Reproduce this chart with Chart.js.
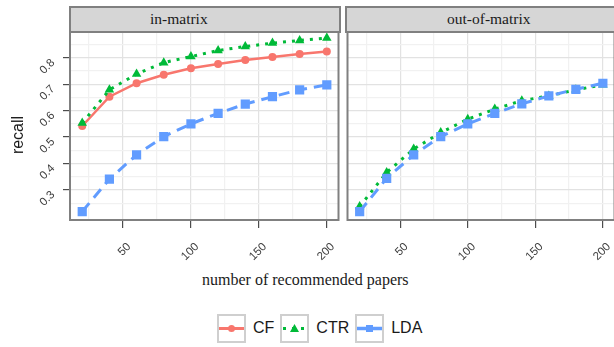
<!DOCTYPE html>
<html>
<head>
<meta charset="utf-8">
<script src="https://cdn.jsdelivr.net/npm/chart.js@4.4.0/dist/chart.umd.min.js"></script>
<style>
    html, body { margin: 0; padding: 0; background: #fff; }
    body {
        width: 614px; height: 347px; overflow: hidden; position: relative;
        font-family: 'Liberation Sans', Arial, sans-serif;
    }
    .panel { position: absolute; top: 0; height: 270px; }
    #leftPanel { left: 0; width: 345px; }
    #rightPanel { left: 341px; width: 280px; }
    .strip {
        position: absolute; top: 6px; height: 27px; box-sizing: border-box;
        background: #d6d6d6; border: 2px solid #808080;
        font-family: 'Liberation Serif', 'Times New Roman', serif;
        font-size: 15.5px; color: #1a1a1a; line-height: 22px; white-space: nowrap;
    }
    #leftStrip { left: 69px; width: 272px; padding-left: 79px; }
    #rightStrip { left: 345px; width: 272px; padding-left: 100px; }
    #yTitle {
        position: absolute; left: -12px; top: 125px; width: 60px; height: 20px;
        text-align: center; font-size: 16px; line-height: 20px; color: #1a1a1a;
        transform: rotate(-90deg);
    }
    #xTitle {
        position: absolute; left: 202px; top: 271px; white-space: nowrap;
        font-family: 'Liberation Serif', 'Times New Roman', serif;
        font-size: 16px; line-height: 18px; color: #1a1a1a;
    }
    #legend {
        position: absolute; left: 217px; top: 313px; height: 30px;
        display: flex; align-items: center; font-size: 16px; color: #1a1a1a;
    }
    .key { width: 29px; height: 29px; box-sizing: border-box; border: 2px solid #cfcfcf; }
    .key svg { display: block; }
    .lbl { margin: 0 6px 0 7px; }
</style>
</head>
<body>
<div class="panel" id="leftPanel"><canvas id="leftChart"></canvas></div>
<div class="panel" id="rightPanel"><canvas id="rightChart"></canvas></div>
<div class="strip" id="leftStrip">in-matrix</div>
<div class="strip" id="rightStrip">out-of-matrix</div>
<div id="yTitle">recall</div>
<div id="xTitle">number of recommended papers</div>
<div id="legend">
    <div class="key"><svg width="25" height="25"><line x1="0" y1="12.5" x2="25" y2="12.5" stroke="#F8766D" stroke-width="3"/><circle cx="12.5" cy="12.5" r="3.5" fill="#F8766D"/></svg></div>
    <span class="lbl">CF</span>
    <div class="key"><svg width="25" height="25"><line x1="1" y1="12.5" x2="25" y2="12.5" stroke="#00BA38" stroke-width="3" stroke-dasharray="3 6"/><polygon points="12.5,8 17,16 8,16" fill="#00BA38"/></svg></div>
    <span class="lbl">CTR</span>
    <div class="key"><svg width="25" height="25"><line x1="0" y1="12.5" x2="25" y2="12.5" stroke="#619CFF" stroke-width="3.5"/><rect x="9" y="9" width="7" height="7" fill="#619CFF"/></svg></div>
    <span class="lbl">LDA</span>
</div>

<script>
// values
const xValues = [20, 40, 60, 80, 100, 120, 140, 160, 180, 200];

const inMatrixCF  = [0.542, 0.653, 0.704, 0.736, 0.761, 0.777, 0.792, 0.803, 0.815, 0.824];
const inMatrixCTR = [0.553, 0.679, 0.739, 0.782, 0.805, 0.828, 0.843, 0.856, 0.866, 0.875];
const inMatrixLDA = [0.218, 0.341, 0.433, 0.502, 0.550, 0.590, 0.625, 0.653, 0.679, 0.698];

const outMatrixCTR = [0.237, 0.366, 0.455, 0.517, 0.568, 0.606, 0.638, 0.656, 0.679, 0.698];
const outMatrixLDA = [0.218, 0.344, 0.433, 0.502, 0.550, 0.590, 0.626, 0.656, 0.681, 0.704];

const xGridTicks  = [25, 50, 75, 100, 125, 150, 175, 200];
const xTickLabels = [50, 100, 150, 200];
const yGridTicks  = [0.25, 0.3, 0.35, 0.4, 0.45, 0.5, 0.55, 0.6, 0.65, 0.7, 0.75, 0.8, 0.85];
const yTickLabels = [0.3, 0.4, 0.5, 0.6, 0.7, 0.8];
const xRange = [11, 208.6];
const yRange = [0.186, 0.898];

const COLORS = { CF: '#F8766D', CTR: '#00BA38', LDA: '#619CFF' };

function isIn(list, v) {
    return list.some(t => Math.abs(t - v) < 1e-6);
}

function makeSeries(name, values) {
    const base = {
        label: name,
        data: xValues.map((x, i) => ({ x: x, y: values[i] })),
        borderColor: COLORS[name],
        backgroundColor: COLORS[name],
        pointBorderWidth: 0,
        tension: 0,
        fill: false
    };
    if (name === 'CF') {
        return Object.assign(base, { borderWidth: 2.5, pointStyle: 'circle', pointRadius: 4, order: 2 });
    }
    if (name === 'CTR') {
        return Object.assign(base, { borderWidth: 3, borderDash: [3, 6], pointStyle: 'triangle', pointRadius: 5.5, order: 1 });
    }
    return Object.assign(base, { borderWidth: 3, borderDash: [11, 7], pointStyle: 'rect', pointRadius: 6.5, order: 0 });
}

// grey frame round each facet panel
const panelFrame = {
    id: 'panelFrame',
    afterDraw(chart) {
        const { left, top, right, bottom } = chart.chartArea;
        const ctx = chart.ctx;
        ctx.save();
        ctx.strokeStyle = '#808080';
        ctx.lineWidth = 2;
        ctx.strokeRect(left, top, right - left, bottom - top);
        ctx.restore();
    }
};

function gridColor(list) {
    return ctx => (ctx.tick && isIn(list, ctx.tick.value)) ? '#e2e2e2' : '#f1f1f1';
}

function makeOptions(showY) {
    return {
        responsive: true,
        maintainAspectRatio: false,
        animation: false,
        events: [],
        layout: { padding: { top: 32, right: 0, left: 0, bottom: 0 } },
        plugins: { legend: { display: false }, tooltip: { enabled: false } },
        scales: {
            x: {
                type: 'linear',
                min: xRange[0],
                max: xRange[1],
                afterBuildTicks: s => { s.ticks = xGridTicks.map(v => ({ value: v })); },
                afterFit: s => {
                    s.height = 50;
                    s.paddingLeft = 0;
                    s.paddingRight = 0;
                },
                border: { display: false },
                grid: {
                    color: gridColor(xTickLabels),
                    lineWidth: 1.2,
                    tickColor: ctx => (ctx.tick && isIn(xTickLabels, ctx.tick.value)) ? '#4d4d4d' : 'rgba(0,0,0,0)',
                    tickLength: 8
                },
                ticks: {
                    autoSkip: false,
                    minRotation: 45,
                    maxRotation: 45,
                    labelOffset: 6,
                    padding: 12,
                    color: '#404040',
                    font: { family: "'Liberation Sans', Arial, sans-serif", size: 11.5 },
                    callback: v => isIn(xTickLabels, v) ? String(v) : ''
                }
            },
            y: {
                type: 'linear',
                min: yRange[0],
                max: yRange[1],
                afterBuildTicks: s => { s.ticks = yGridTicks.map(v => ({ value: v })); },
                afterFit: s => { s.width = showY ? 70 : 0; },
                border: { display: false },
                grid: {
                    color: gridColor(yTickLabels),
                    lineWidth: 1.2,
                    drawTicks: showY,
                    tickColor: ctx => (ctx.tick && isIn(yTickLabels, ctx.tick.value)) ? '#4d4d4d' : 'rgba(0,0,0,0)',
                    tickLength: 7
                },
                ticks: {
                    display: showY,
                    autoSkip: false,
                    minRotation: 45,
                    maxRotation: 45,
                    labelOffset: 3,
                    padding: 10,
                    color: '#404040',
                    font: { family: "'Liberation Sans', Arial, sans-serif", size: 11.5 },
                    callback: v => isIn(yTickLabels, v) ? v.toFixed(1) : ''
                }
            }
        }
    };
}

new Chart(document.getElementById('leftChart'), {
    type: 'line',
    data: { datasets: [makeSeries('CF', inMatrixCF), makeSeries('CTR', inMatrixCTR), makeSeries('LDA', inMatrixLDA)] },
    options: makeOptions(true),
    plugins: [panelFrame]
});

new Chart(document.getElementById('rightChart'), {
    type: 'line',
    data: { datasets: [makeSeries('CTR', outMatrixCTR), makeSeries('LDA', outMatrixLDA)] },
    options: makeOptions(false),
    plugins: [panelFrame]
});
</script>
</body>
</html>
